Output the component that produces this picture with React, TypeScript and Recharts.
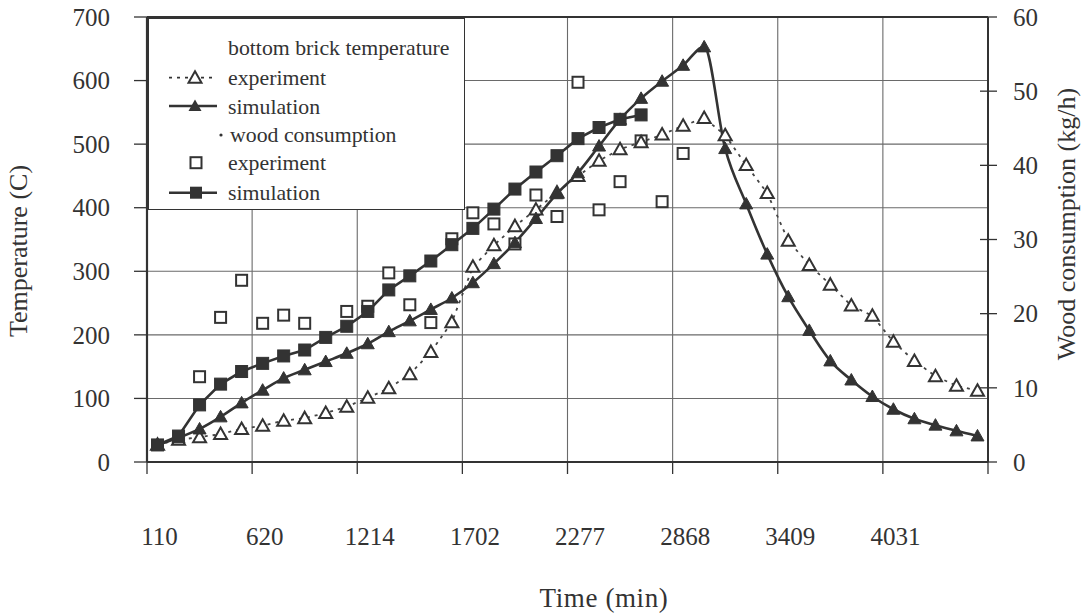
import React from 'react';
import { ComposedChart, Line, XAxis, YAxis, CartesianGrid, Legend, ReferenceLine, Label } from 'recharts';

// ---- data ----
const categoryIndex = [0, 1, 2, 3, 4, 5, 6, 7, 8, 9, 10, 11, 12, 13, 14, 15, 16, 17, 18, 19, 20, 21, 22, 23, 24, 25, 26, 27, 28, 29, 30, 31, 32, 33, 34, 35, 36, 37, 38, 39];
const tickIndex = [0, 5, 10, 15, 20, 25, 30, 35];
const tickLabels = ['110', '620', '1214', '1702', '2277', '2868', '3409', '4031'];
const gridBoundaries = [-0.5, 4.5, 9.5, 14.5, 19.5, 24.5, 29.5, 34.5, 39.5];
const tempTicks = [0, 100, 200, 300, 400, 500, 600, 700];
const woodTicks = [0, 10, 20, 30, 40, 50, 60];

// bottom brick temperature (C)
const tempExperiment = [27, 35, 39, 44, 52, 57, 65, 69, 77, 87, 101, 116, 138, 173, 220, 307, 341, 371, 397, 424, 450, 474, 492, 503, 515, 529, 541, 514, 467, 423, 348, 310, 279, 246, 230, 189, 159, 135, 120, 112];
const tempSimulation = [27, 38, 52, 71, 93, 113, 132, 145, 158, 171, 186, 205, 222, 240, 258, 282, 312, 345, 383, 422, 455, 497, 539, 572, 599, 624, 653, 493, 406, 327, 260, 207, 159, 129, 103, 83, 68, 58, 49, 41];
// wood consumption (kg/h)
const woodExperiment = [null, null, 11.5, 19.5, 24.5, 18.7, 19.8, 18.7, null, 20.3, 21.0, 25.5, 21.2, 18.8, 30.1, 33.6, 32.1, 29.4, 36.0, 33.1, 51.2, 34.0, 37.8, 43.3, 35.1, 41.6, null, null, null, null, null, null, null, null, null, null, null, null, null, null];
const woodSimulation = [2.3, 3.5, 7.7, 10.5, 12.2, 13.3, 14.3, 15.1, 16.8, 18.3, 20.3, 23.2, 25.1, 27.1, 29.3, 31.5, 34.1, 36.8, 39.1, 41.3, 43.6, 45.1, 46.2, 46.8, null, null, null, null, null, null, null, null, null, null, null, null, null, null, null, null];

const data = categoryIndex.map((idx, i) => ({
  idx,
  tempExp: tempExperiment[i],
  tempSim: tempSimulation[i],
  woodExp: woodExperiment[i],
  woodSim: woodSimulation[i],
}));

const allXTicks = gridBoundaries.concat(tickIndex).sort((a, b) => a - b);

// ---- styles ----
const INK = '#333333';
const GRID = '#6a6a6a';
const FONT = '"Liberation Serif", Tinos, "Times New Roman", Times, "DejaVu Serif", serif';

const triPath = (cx: number, cy: number) => `M ${cx} ${cy - 6.5} L ${cx + 6.5} ${cy + 5} L ${cx - 6.5} ${cy + 5} Z`;

const makeDot = (kind: string) => (props: any) => {
  const { cx, cy, index, value } = props;
  const key = `${kind}-${index}`;
  if (cx == null || cy == null || value == null || Number.isNaN(cy)) return <g key={key} />;
  if (kind === 'openTri') {
    return <path key={key} d={triPath(cx, cy)} fill="#fff" stroke={INK} strokeWidth={2} />;
  }
  if (kind === 'fillTri') {
    return <path key={key} d={triPath(cx, cy)} fill={INK} stroke={INK} strokeWidth={1} />;
  }
  if (kind === 'openSq') {
    return <rect key={key} x={cx - 5.5} y={cy - 5.5} width={11} height={11} fill="#fff" stroke={INK} strokeWidth={2} />;
  }
  return <rect key={key} x={cx - 6} y={cy - 6} width={12} height={12} fill={INK} stroke={INK} strokeWidth={1} />;
};

const XTick = (props: any) => {
  const { x, y, payload } = props;
  const li = tickIndex.indexOf(payload.value);
  if (li >= 0) {
    return (
      <text x={x + 2} y={y + 83} textAnchor="middle" style={{ fontFamily: FONT, fontSize: 25 }} fill={INK}>
        {tickLabels[li]}
      </text>
    );
  }
  return <line x1={x} x2={x} y1={y} y2={y + 12} stroke={INK} strokeWidth={1.3} />;
};

const RightTick = (props: any) => {
  const { x, y, payload } = props;
  return (
    <g>
      <line x1={x - 33} x2={x - 16} y1={y} y2={y} stroke={INK} strokeWidth={1.3} />
      <text x={x} y={y} dy="0.35em" textAnchor="start" style={{ fontFamily: FONT, fontSize: 25 }} fill={INK}>
        {payload.value}
      </text>
    </g>
  );
};

const LeftTick = (props: any) => {
  const { x, y, payload } = props;
  return (
    <text x={x} y={y} dy="0.35em" textAnchor="end" style={{ fontFamily: FONT, fontSize: 25 }} fill={INK}>
      {payload.value}
    </text>
  );
};

const LegendBox = () => {
  const textStyle = { fontSize: 21.8, fontFamily: FONT } as const;
  const rows = [28.7, 58.7, 87, 115, 143.7, 173.7];
  return (
    <div style={{ width: 317, height: 192, background: '#fff', border: `1.5px solid ${INK}`, boxSizing: 'border-box' }}>
      <svg width={314} height={189} style={{ display: 'block' }}>
        <text x={79} y={rows[0]} dy="0.35em" style={textStyle} fill={INK}>bottom brick temperature</text>

        <line x1={20} x2={68} y1={rows[1]} y2={rows[1]} stroke={INK} strokeWidth={1.8} strokeDasharray="3 5" />
        <path d={triPath(46, rows[1])} fill="#fff" stroke={INK} strokeWidth={2} />
        <text x={79} y={rows[1]} dy="0.35em" style={textStyle} fill={INK}>experiment</text>

        <line x1={20} x2={68} y1={rows[2]} y2={rows[2]} stroke={INK} strokeWidth={2.4} />
        <path d={triPath(46, rows[2])} fill={INK} />
        <text x={79} y={rows[2]} dy="0.35em" style={textStyle} fill={INK}>simulation</text>

        <circle cx={72} cy={rows[3] + 1} r={1.6} fill={INK} />
        <text x={81} y={rows[3]} dy="0.35em" style={textStyle} fill={INK}>wood consumption</text>

        <rect x={41.5} y={rows[4] - 5.5} width={11} height={11} fill="#fff" stroke={INK} strokeWidth={2} />
        <text x={79} y={rows[4]} dy="0.35em" style={textStyle} fill={INK}>experiment</text>

        <line x1={20} x2={68} y1={rows[5]} y2={rows[5]} stroke={INK} strokeWidth={2.4} />
        <rect x={41} y={rows[5] - 6} width={12} height={12} fill={INK} />
        <text x={79} y={rows[5]} dy="0.35em" style={textStyle} fill={INK}>simulation</text>
      </svg>
    </div>
  );
};

const LeftTitle = () => (
  <text x={27} y={251} transform="rotate(-90, 27, 251)" textAnchor="middle" style={{ fontFamily: FONT, fontSize: 26 }} fill={INK}>
    Temperature (C)
  </text>
);

const RightTitle = () => (
  <text x={1075} y={224} transform="rotate(-90, 1075, 224)" textAnchor="middle" style={{ fontFamily: FONT, fontSize: 26 }} fill={INK}>
    Wood consumption (kg/h)
  </text>
);

const BottomTitle = () => (
  <text x={604} y={607} textAnchor="middle" style={{ fontFamily: FONT, fontSize: 27, letterSpacing: 0.6 }} fill={INK}>
    Time (min)
  </text>
);

export default function App() {
  return (
    <div style={{ position: 'absolute', left: 0, top: 0, background: '#fff', fontFamily: FONT }}>
      <ComposedChart
        width={1087}
        height={614}
        data={data}
        margin={{ top: 17, right: 0, bottom: 0, left: 0 }}
      >
        <XAxis xAxisId="g" type="number" dataKey="idx" domain={[-0.5, 39.5]} ticks={gridBoundaries} height={0} hide />
        <XAxis
          xAxisId="main"
          type="number"
          dataKey="idx"
          domain={[-0.5, 39.5]}
          ticks={allXTicks}
          interval={0}
          height={152}
          tickSize={0}
          tickMargin={0}
          tickLine={false}
          tick={<XTick />}
          axisLine={{ stroke: INK, strokeWidth: 2.2 }}
        >
          <Label content={<BottomTitle />} />
        </XAxis>
        <YAxis
          yAxisId="left"
          domain={[0, 700]}
          ticks={tempTicks}
          interval={0}
          width={147}
          tickSize={13}
          tickMargin={24}
          tickLine={{ stroke: INK, strokeWidth: 1.3 }}
          axisLine={{ stroke: INK, strokeWidth: 2.2 }}
          tick={<LeftTick />}
        >
          <Label content={<LeftTitle />} />
        </YAxis>
        <YAxis
          yAxisId="right"
          orientation="right"
          domain={[0, 60]}
          ticks={woodTicks}
          interval={0}
          width={99}
          tickSize={0}
          tickMargin={25}
          tickLine={false}
          tick={<RightTick />}
          axisLine={{ stroke: INK, strokeWidth: 2 }}
        >
          <Label content={<RightTitle />} />
        </YAxis>
        <CartesianGrid xAxisId="g" yAxisId="left" stroke={GRID} strokeWidth={1.1} />
        <ReferenceLine xAxisId="main" yAxisId="left" y={700} stroke={INK} strokeWidth={1.8} />

        <Line xAxisId="main" yAxisId="right" dataKey="woodExp" stroke="none" dot={makeDot('openSq')} activeDot={false} isAnimationActive={false} legendType="none" />
        <Line xAxisId="main" yAxisId="left" dataKey="tempExp" type="linear" stroke="#444" strokeWidth={1.8} strokeDasharray="3 5" dot={makeDot('openTri')} activeDot={false} isAnimationActive={false} />
        <Line xAxisId="main" yAxisId="left" dataKey="tempSim" type="monotone" stroke={INK} strokeWidth={2.6} dot={makeDot('fillTri')} activeDot={false} isAnimationActive={false} />
        <Line xAxisId="main" yAxisId="right" dataKey="woodSim" type="linear" stroke={INK} strokeWidth={2.6} dot={makeDot('fillSq')} activeDot={false} isAnimationActive={false} />

        <Legend
          layout="horizontal"
          verticalAlign="middle"
          align="center"
          wrapperStyle={{ left: 148, top: 18, width: 317, height: 192 }}
          content={() => <LegendBox />}
        />
      </ComposedChart>
    </div>
  );
}
